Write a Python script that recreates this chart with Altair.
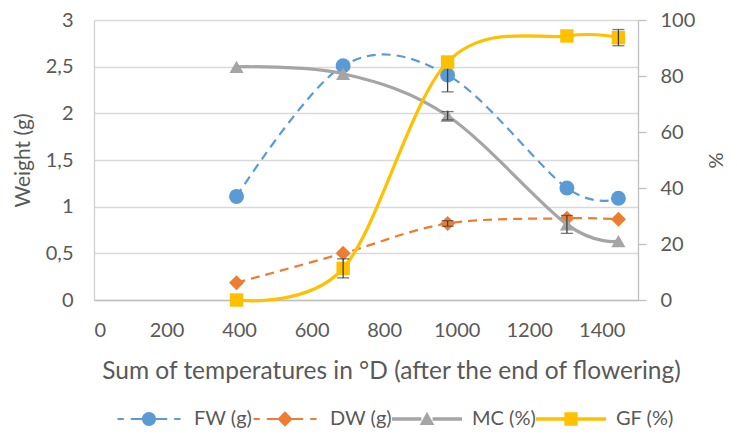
import altair as alt
import pandas as pd

# ---- data ----
x_vals = [393, 687, 975, 1304, 1446]
series_names = ["FW (g)", "DW (g)", "MC (%)", "GF (%)"]
fw = [1.11, 2.51, 2.41, 1.20, 1.09]
dw = [0.185, 0.50, 0.82, 0.875, 0.865]
mc = [83.3, 80.8, 65.8, 27.0, 21.0]
gf = [0.0, 11.3, 85.0, 94.3, 93.7]
fw_err = [0, 0, 0.18, 0, 0]
dw_err = [0, 0, 0.03, 0, 0]
mc_err = [0, 0, 1.5, 3.2, 0]
gf_err = [0, 3.4, 0, 0, 2.9]

x_ticks = [0, 200, 400, 600, 800, 1000, 1200, 1400]
left_ticks = [0, 0.5, 1, 1.5, 2, 2.5, 3]
right_ticks = [0, 20, 40, 60, 80, 100]

colors = ["#5B9BD5", "#ED7D31", "#A5A5A5", "#FFC000"]
shapes = ["circle", "diamond", "triangle-up", "square"]
sizes = [225, 225, 200, 180]
widths = [2.2, 2.2, 3.2, 3.2]
dashes = [[9, 6], [9, 6], None, None]

values = [fw, dw, mc, gf]
errs = [fw_err, dw_err, mc_err, gf_err]

rows = []
for s, vals, es in zip(series_names, values, errs):
    for xv, v, e in zip(x_vals, vals, es):
        rows.append({"series": s, "x": xv, "v": v, "err": e, "lo": v - e, "hi": v + e})
df = pd.DataFrame(rows)

# legend symbols: line (dashed / solid) with the marker in the middle
dash_line = ("M-4.5,-0.15H-3.6V0.15H-4.5Z M-2.6,-0.15H-1V0.15H-2.6Z "
             "M1,-0.15H2.6V0.15H1Z M3.6,-0.15H4.5V0.15H3.6Z ")
solid_line = "M-5,-0.24H-0.8V0.24H-5Z M0.8,-0.24H5V0.24H0.8Z "
legend_paths = [
    dash_line + "M-1,0A1,1 0 1,0 1,0A1,1 0 1,0 -1,0Z",
    dash_line + "M0,-1.1L1.1,0L0,1.1L-1.1,0Z",
    solid_line + "M0,-1.05L1.05,0.85L-1.05,0.85Z",
    solid_line + "M-0.95,-0.95H0.95V0.95H-0.95Z",
]

FONT = "Lato"
GREY = "#595959"

X = alt.X("x:Q", scale=alt.Scale(domain=[0, 1500], nice=False, zero=True),
          axis=alt.Axis(values=x_ticks, format="d", grid=False, ticks=False, domain=True,
                        domainColor="#bfbfbf", domainWidth=1.3,
                        labelFontSize=20, labelColor=GREY, labelPadding=20,
                        title="Sum of temperatures in °D (after the end of flowering)",
                        titleFontSize=24.5, titleColor=GREY, titleFontWeight="normal",
                        titleX=297, titleY=78, titleAlign="center",
                        titleBaseline="alphabetic"))

left_axis = alt.Axis(values=left_ticks, title="Weight (g)",
                     labelExpr="replace(format(datum.value, '.1~f'), '.', ',')",
                     grid=True, gridColor="#d9d9d9", gridWidth=1.3,
                     domain=True, domainColor="#d0d0d0", domainWidth=1.3,
                     ticks=False, labelFontSize=20, labelColor=GREY, labelPadding=21,
                     titleFontSize=21, titleColor=GREY, titleFontWeight="normal",
                     titlePadding=12)
right_axis = alt.Axis(values=right_ticks, title="%", orient="right",
                      grid=False, domain=True, domainColor="#bfbfbf", domainWidth=1.3,
                      ticks=True, tickSize=8, tickColor="#bfbfbf", tickWidth=1.3,
                      labelFontSize=20, labelColor=GREY, labelPadding=14,
                      titleFontSize=20, titleColor=GREY, titleFontWeight="normal",
                      titlePadding=10)

YL = dict(scale=alt.Scale(domain=[0, 3], nice=False), axis=left_axis)
YR = dict(scale=alt.Scale(domain=[0, 100], nice=False), axis=right_axis)


def series_layers(i, ydef):
    s = series_names[i]
    base = alt.Chart(df).transform_filter(alt.datum.series == s)
    line_kw = dict(interpolate="cardinal", color=colors[i], strokeWidth=widths[i])
    if dashes[i] is not None:
        line_kw["strokeDash"] = dashes[i]
    line = base.mark_line(**line_kw).encode(x=X, y=alt.Y("v:Q", **ydef))
    pts = base.mark_point(filled=True, shape=shapes[i], size=sizes[i],
                          color=colors[i], opacity=1).encode(x=X, y=alt.Y("v:Q", **ydef))
    eb = base.transform_filter(alt.datum.err > 0).mark_errorbar(
        ticks={"size": 12}, color="#404040", thickness=1.3
    ).encode(x=X, y=alt.Y("lo:Q", **ydef), y2="hi:Q")
    return [line, pts, eb]


leg = alt.Legend(orient="none", legendX=45, legendY=389, direction="horizontal",
                 columns=4, title=None, symbolSize=196, symbolStrokeWidth=0,
                 symbolOpacity=1, labelFontSize=20, labelColor=GREY, labelFont=FONT,
                 labelOffset=35, columnPadding=0, padding=0)

legend_layer = alt.Chart(df).mark_point(filled=True, opacity=0).encode(
    x=X, y=alt.value(0),
    color=alt.Color("series:N", scale=alt.Scale(domain=series_names, range=colors), legend=leg),
    shape=alt.Shape("series:N", scale=alt.Scale(domain=series_names, range=legend_paths), legend=leg),
)

left = alt.layer(*(series_layers(0, YL) + series_layers(1, YL) + [legend_layer]))
right = alt.layer(*(series_layers(2, YR) + series_layers(3, YR)))

chart = alt.layer(left, right).resolve_scale(y="independent").properties(
    width=544, height=280,
    padding={"left": 86, "top": 12, "right": 91, "bottom": 131},
    autosize=alt.AutoSizeParams(type="none"),
).configure_view(stroke=None).configure_axis(
    labelFont=FONT, titleFont=FONT
).configure_legend(labelFont=FONT)

chart.save("out.html", embed_options={"renderer": "svg", "actions": False})
